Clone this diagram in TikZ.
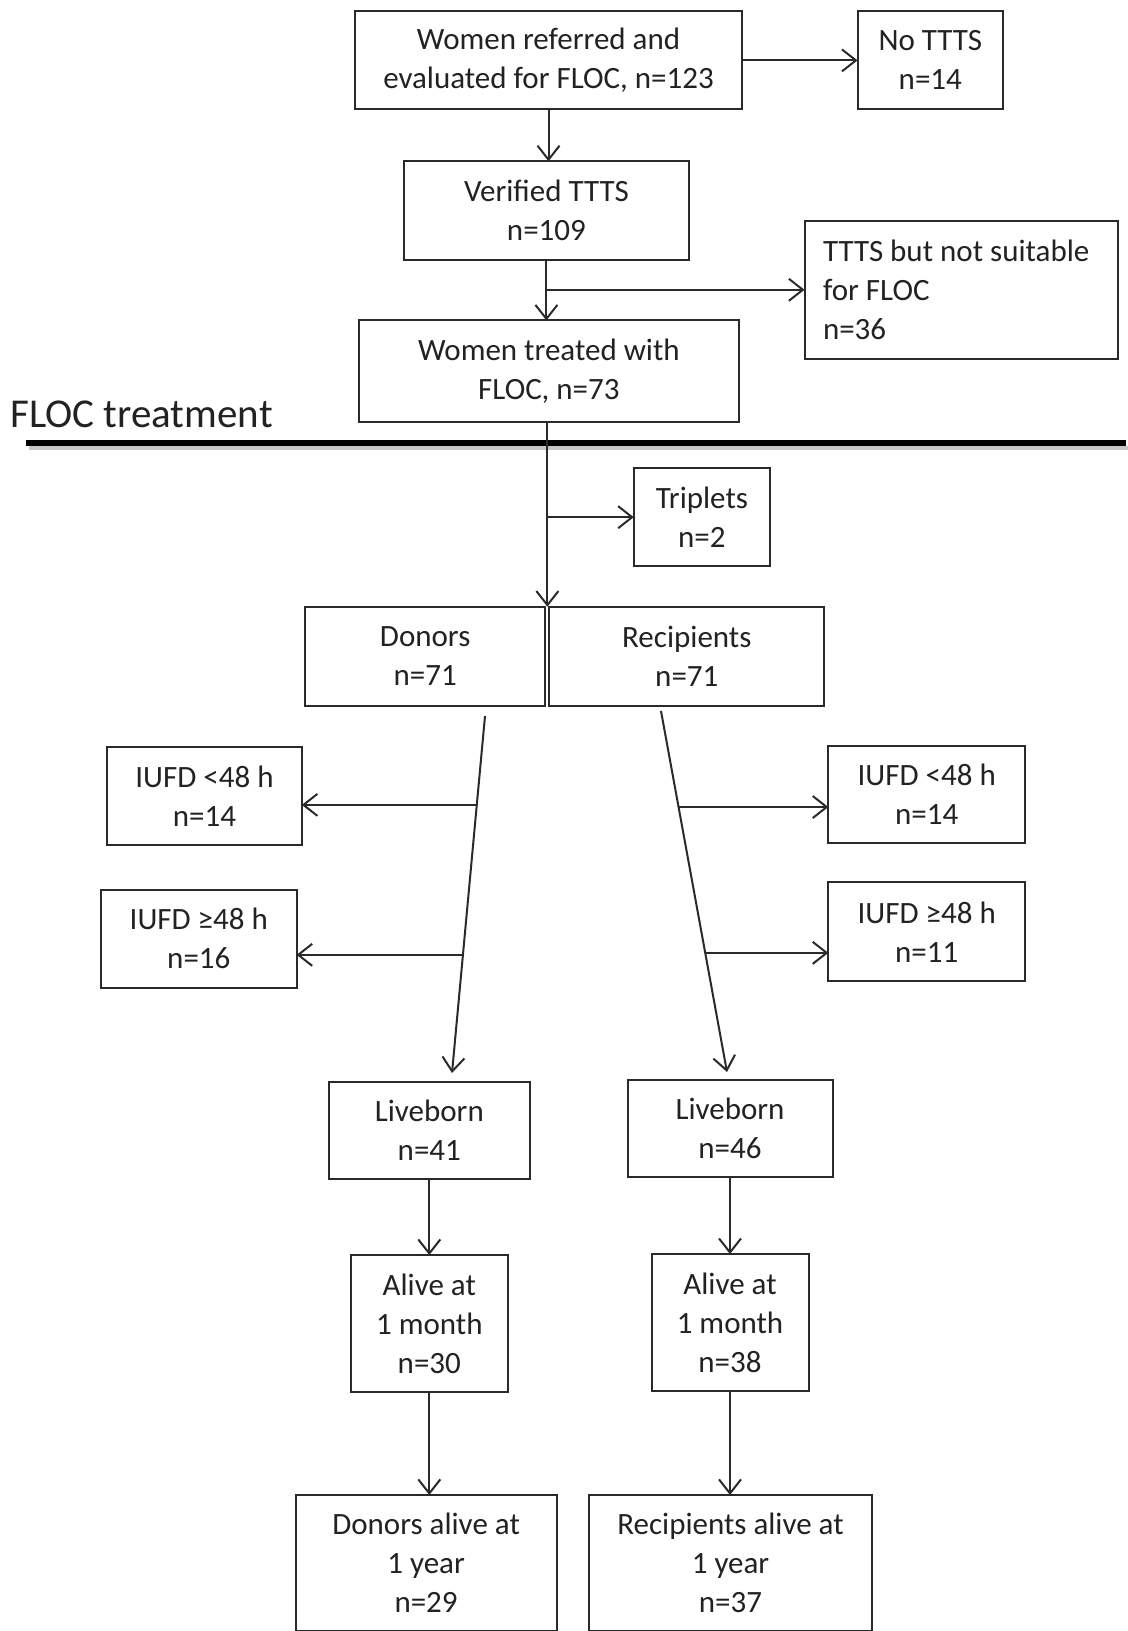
\documentclass[tikz,border=0pt]{standalone}
\usepackage{fontspec}
\setmainfont{Carlito}
\usetikzlibrary{arrows.meta,calc}
\definecolor{lc}{HTML}{2A2A2A}
\definecolor{tc}{HTML}{222222}
\tikzset{
  box/.style 2 args={draw=lc, line width=1pt, rectangle, inner sep=0pt, outer sep=0pt,
    minimum width=#1*0.5pt, minimum height=#2*0.5pt, align=center, text=tc,
    font=\fontsize{15.5}{19.5}\selectfont},
  arr/.style={draw=lc, line width=1pt, -{Straight Barb[length=7pt,width=11pt,line width=1pt]}},
  plain/.style={draw=lc, line width=1pt}
}
\begin{document}
\begin{tikzpicture}[x=0.5pt,y=-0.5pt]
\useasboundingbox (0,0) rectangle (1128,1631);
\clip (0,0) rectangle (1128,1631);
\fill[white] (0,0) rectangle (1128,1631);

% boxes
\node[box={387}{98}] (ref) at (548.5,60.4) {Women referred and\\evaluated for FLOC, n=123};
\node[box={145.5}{98}] (nottts) at (930.3,60.4) {No TTTS\\n=14};
\node[box={285}{99}] (verified) at (546.4,210.8) {Verified TTTS\\n=109};
\node[box={313}{138.5}, text width=138pt, align=flush left] (notsuit) at (961,289.8) {TTTS but not suitable\\for FLOC\\n=36};
\node[box={380}{101}] (treated) at (548.9,371) {Women treated with\\FLOC, n=73};

% FLOC treatment line
\node[anchor=west, inner sep=0pt, text=tc, font=\fontsize{20.5}{24}\selectfont] (floc) at (10,414) {FLOC treatment};
\coordinate (hlL) at (26,443);
\coordinate (hlR) at (1126,443);
\draw[gray!45, line width=2pt] ($(hlL)+(3,5)$) -- ($(hlR)+(3,5)$);
\draw[black, line width=2.6pt] (hlL) -- (hlR);

\node[box={136.3}{97.7}] (triplets) at (701.9,517.2) {Triplets\\n=2};
\node[box={240.3}{98.8}] (donors) at (425.2,656.1) {Donors\\n=71};
\node[box={274.8}{98.8}] (recipients) at (686.8,656.1) {Recipients\\n=71};

\node[box={194.6}{97.8}] (iufd1L) at (204.5,796.1) {IUFD <48 h\\n=14};
\node[box={195.6}{97.8}] (iufd2L) at (198.8,938.6) {IUFD ≥48 h\\n=16};
\node[box={196.7}{97}] (iufd1R) at (926.7,794.5) {IUFD <48 h\\n=14};
\node[box={196.7}{98.9}] (iufd2R) at (926.7,931.9) {IUFD ≥48 h\\n=11};

\node[box={201}{96.8}] (live41) at (429.3,1130.6) {Liveborn\\n=41};
\node[box={205}{97}] (live46) at (730,1128.5) {Liveborn\\n=46};
\node[box={157}{137.3}] (alive30) at (429.3,1323.7) {Alive at\\1 month\\n=30};
\node[box={157}{137.3}] (alive38) at (730,1322.7) {Alive at\\1 month\\n=38};
\node[box={261.2}{136}] (year29) at (426.1,1563) {Donors alive at\\1 year\\n=29};
\node[box={283}{136}] (year37) at (730.5,1563) {Recipients alive at\\1 year\\n=37};

% connectors top
\draw[arr] (ref.east) -- (nottts.west);
\draw[arr] (ref.south) -- (ref.south |- verified.north);
\draw[arr] (verified.south) -- (verified.south |- treated.north);
\draw[arr] (verified.south |- notsuit.west) -- (notsuit.west);

\coordinate (junc) at ($(donors.north east)!0.5!(recipients.north west)$);
\draw[arr] (junc |- treated.south) -- (junc);
\draw[arr] (junc |- triplets.west) -- (triplets.west);

% diagonals
\coordinate (dtop) at (485,716);
\coordinate (dtip) at (452,1073);
\coordinate (rtop) at (661,711);
\coordinate (rtip) at (727,1072);
\draw[arr] (dtop) -- (dtip);
\draw[arr] (rtop) -- (rtip);
\path (dtop) -- (dtip) coordinate[pos=0.249] (dL1) coordinate[pos=0.669] (dL2);
\path (rtop) -- (rtip) coordinate[pos=0.266] (rR1) coordinate[pos=0.670] (rR2);
\draw[arr] (dL1) -- (dL1 -| iufd1L.east);
\draw[arr] (dL2) -- (dL2 -| iufd2L.east);
\draw[arr] (rR1) -- (rR1 -| iufd1R.west);
\draw[arr] (rR2) -- (rR2 -| iufd2R.west);

% lower chains
\draw[arr] (live41.south) -- (alive30.north);
\draw[arr] (live46.south) -- (alive38.north);
\draw[arr] (alive30.south) -- (alive30.south |- year29.north);
\draw[arr] (alive38.south) -- (alive38.south |- year37.north);
\end{tikzpicture}
\end{document}
